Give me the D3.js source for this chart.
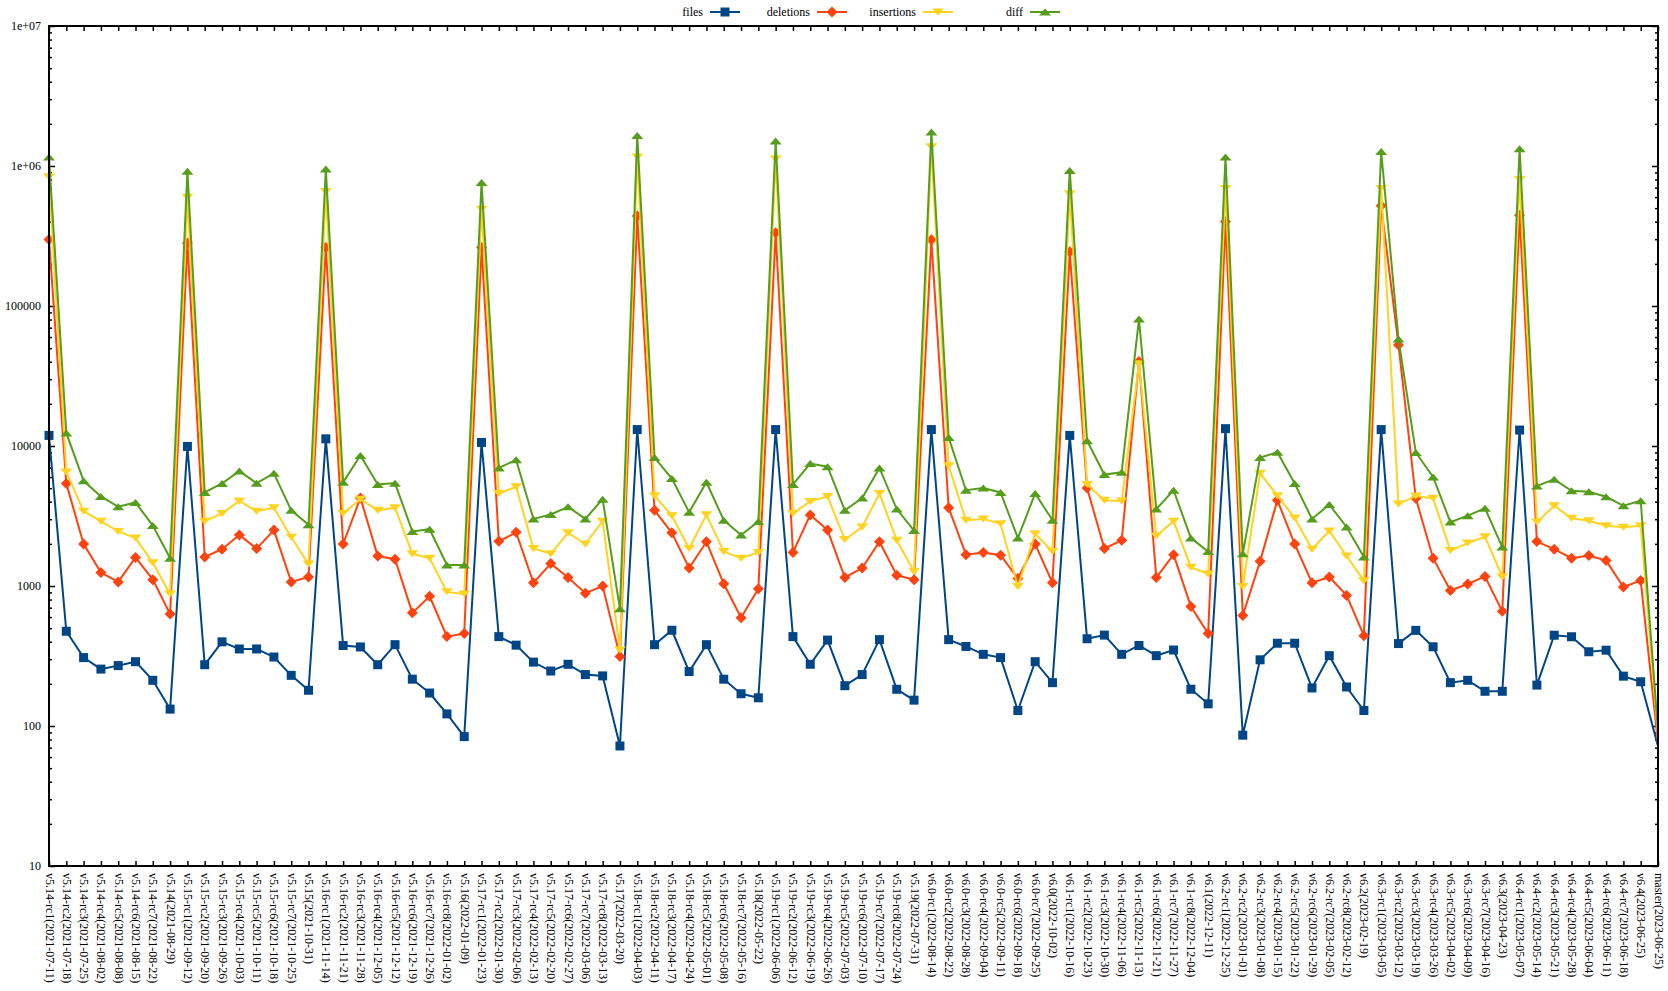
<!DOCTYPE html>
<html><head><meta charset="utf-8">
<script src="https://cdn.jsdelivr.net/npm/d3@7"></script>
<style>
html,body{margin:0;padding:0;background:#fff;}
text{font-family:"Liberation Serif","DejaVu Serif",serif;}
</style></head>
<body>
<svg id="chart" width="1668" height="991"></svg>
<script>
const categories = [
"v5.14-rc1(2021-07-11)","v5.14-rc2(2021-07-18)","v5.14-rc3(2021-07-25)","v5.14-rc4(2021-08-02)","v5.14-rc5(2021-08-08)","v5.14-rc6(2021-08-15)","v5.14-rc7(2021-08-22)","v5.14(2021-08-29)",
"v5.15-rc1(2021-09-12)","v5.15-rc2(2021-09-20)","v5.15-rc3(2021-09-26)","v5.15-rc4(2021-10-03)","v5.15-rc5(2021-10-11)","v5.15-rc6(2021-10-18)","v5.15-rc7(2021-10-25)","v5.15(2021-10-31)",
"v5.16-rc1(2021-11-14)","v5.16-rc2(2021-11-21)","v5.16-rc3(2021-11-28)","v5.16-rc4(2021-12-05)","v5.16-rc5(2021-12-12)","v5.16-rc6(2021-12-19)","v5.16-rc7(2021-12-26)","v5.16-rc8(2022-01-02)","v5.16(2022-01-09)",
"v5.17-rc1(2022-01-23)","v5.17-rc2(2022-01-30)","v5.17-rc3(2022-02-06)","v5.17-rc4(2022-02-13)","v5.17-rc5(2022-02-20)","v5.17-rc6(2022-02-27)","v5.17-rc7(2022-03-06)","v5.17-rc8(2022-03-13)","v5.17(2022-03-20)",
"v5.18-rc1(2022-04-03)","v5.18-rc2(2022-04-11)","v5.18-rc3(2022-04-17)","v5.18-rc4(2022-04-24)","v5.18-rc5(2022-05-01)","v5.18-rc6(2022-05-08)","v5.18-rc7(2022-05-16)","v5.18(2022-05-22)",
"v5.19-rc1(2022-06-06)","v5.19-rc2(2022-06-12)","v5.19-rc3(2022-06-19)","v5.19-rc4(2022-06-26)","v5.19-rc5(2022-07-03)","v5.19-rc6(2022-07-10)","v5.19-rc7(2022-07-17)","v5.19-rc8(2022-07-24)","v5.19(2022-07-31)",
"v6.0-rc1(2022-08-14)","v6.0-rc2(2022-08-22)","v6.0-rc3(2022-08-28)","v6.0-rc4(2022-09-04)","v6.0-rc5(2022-09-11)","v6.0-rc6(2022-09-18)","v6.0-rc7(2022-09-25)","v6.0(2022-10-02)",
"v6.1-rc1(2022-10-16)","v6.1-rc2(2022-10-23)","v6.1-rc3(2022-10-30)","v6.1-rc4(2022-11-06)","v6.1-rc5(2022-11-13)","v6.1-rc6(2022-11-21)","v6.1-rc7(2022-11-27)","v6.1-rc8(2022-12-04)","v6.1(2022-12-11)",
"v6.2-rc1(2022-12-25)","v6.2-rc2(2023-01-01)","v6.2-rc3(2023-01-08)","v6.2-rc4(2023-01-15)","v6.2-rc5(2023-01-22)","v6.2-rc6(2023-01-29)","v6.2-rc7(2023-02-05)","v6.2-rc8(2023-02-12)","v6.2(2023-02-19)",
"v6.3-rc1(2023-03-05)","v6.3-rc2(2023-03-12)","v6.3-rc3(2023-03-19)","v6.3-rc4(2023-03-26)","v6.3-rc5(2023-04-02)","v6.3-rc6(2023-04-09)","v6.3-rc7(2023-04-16)","v6.3(2023-04-23)",
"v6.4-rc1(2023-05-07)","v6.4-rc2(2023-05-14)","v6.4-rc3(2023-05-21)","v6.4-rc4(2023-05-28)","v6.4-rc5(2023-06-04)","v6.4-rc6(2023-06-11)","v6.4-rc7(2023-06-18)","v6.4(2023-06-25)",
"master(2023-06-25)"
];

const files = [
11900,475,308,255,270,288,212,132,
9930,274,399,355,355,311,230,180,
11250,376,367,274,381,216,172,122,84,
10600,435,378,286,247,276,233,228,72,
13100,381,483,245,381,216,170,159,
13100,435,276,411,194,233,414,183,153,
13100,414,370,325,308,129,288,204,
11900,420,446,325,376,318,349,183,144,
13300,86,297,390,390,187,318,190,129,
13100,388,482,368,204,212,177,177,
13000,196,445,434,339,348,227,207,
72
];
const deletions = [
299000,5390,1995,1247,1070,1600,1110,630,
282000,1613,1830,2313,1850,2507,1070,1160,
262000,1995,4260,1637,1555,643,845,435,458,
262000,2085,2417,1053,1445,1150,889,1000,313,
439000,3470,2400,1343,2070,1037,593,957,
334000,1738,3220,2507,1150,1343,2070,1195,1110,
297000,3620,1673,1738,1660,1133,1995,1053,
244000,5010,1853,2120,40200,1150,1673,713,458,
402000,615,1500,4100,1995,1053,1160,857,442,
520000,52700,4230,1580,929,1033,1170,659,
445000,2075,1832,1580,1650,1518,984,1094,
76
];
const insertions = [
838000,6530,3420,2900,2455,2200,1465,875,
597000,2900,3300,4050,3420,3625,2230,1435,
658000,3300,4170,3470,3625,1698,1578,908,875,
490000,4580,5120,1853,1698,2400,1995,2900,349,
1160000,4420,3180,1853,3225,1762,1578,1738,
1120000,3300,4020,4360,2148,2640,4580,2120,1265,
1370000,7230,2950,3015,2780,993,2365,1762,
634000,5310,4100,4050,38700,2280,2900,1362,1218,
692000,993,6380,4420,3060,1830,2474,1637,1092,
692000,3850,4400,4230,1790,2025,2250,1160,
802000,2860,3740,3050,2925,2695,2630,2695,
85
];
const diff = [
1160000,12400,5640,4360,3680,3950,2700,1580,
916000,4660,5400,6620,5430,6380,3470,2740,
950000,5500,8570,5310,5430,2455,2545,1413,1413,
762000,6970,7960,3015,3240,3680,3015,4170,687,
1650000,8260,5850,3365,5510,2950,2313,2885,
1510000,5310,7500,7120,3470,4250,6970,3545,2490,
1750000,11500,4830,5010,4660,2200,4580,2950,
929000,10900,6250,6490,80700,3545,4830,2200,1762,
1160000,1698,8260,9020,5400,3015,3815,2640,1613,
1270000,58100,8990,6010,2860,3180,3590,1897,
1330000,5190,5780,4790,4710,4340,3740,4060,
92
];
const yTicks = [10,100,1000,10000,100000,1000000,10000000];
const yTickLabels = ["10","100","1000","10000","100000","1e+06","1e+07"];
const seriesNames = ["files","deletions","insertions","diff"];
const seriesColors = ["#004586","#ff420e","#ffd320","#579d1c"];
const seriesShapes = ["square","diamond","down","up"];

const L = 49, R = 1658, T = 26, B = 866;
const svg = d3.select("#chart");
const x = d3.scalePoint().domain(categories).range([L, R]).padding(0);
const y = d3.scaleLog().domain([10, 1e7]).range([B, T]);

const minors = [];
for (let i = 0; i < yTicks.length - 1; i++) for (let m = 2; m <= 9; m++) minors.push(yTicks[i] * m);

// axes
const gBottom = svg.append("g").attr("transform", `translate(0,${B})`)
  .call(d3.axisBottom(x).tickSize(-5).tickSizeOuter(0));
gBottom.select(".domain").remove();
gBottom.selectAll("line").attr("stroke","#000").attr("stroke-width",1.5);
gBottom.selectAll("text")
  .attr("y", 0).attr("x", 7).attr("dy", "0.33em")
  .attr("transform", "rotate(90)")
  .style("text-anchor", "start")
  .style("font-size", "12px")
  .style("font-family", '"Liberation Serif",serif')
  .attr("fill", "#000");

const gTop = svg.append("g").attr("transform", `translate(0,${T})`)
  .call(d3.axisTop(x).tickSize(-5).tickSizeOuter(0).tickFormat(""));
gTop.select(".domain").remove();
gTop.selectAll("line").attr("stroke","#000").attr("stroke-width",1.5);

const yFmt = d => yTickLabels[yTicks.indexOf(d)];
const gLeft = svg.append("g").attr("transform", `translate(${L},0)`)
  .call(d3.axisLeft(y).tickValues(yTicks).tickFormat(yFmt).tickSize(-6).tickPadding(8).tickSizeOuter(0));
gLeft.select(".domain").remove();
gLeft.selectAll("line").attr("stroke","#000").attr("stroke-width",1.5);
gLeft.selectAll("text").style("font-size","12px").style("font-family",'"Liberation Serif",serif').attr("fill","#000");
const gLeftMin = svg.append("g").attr("transform", `translate(${L},0)`)
  .call(d3.axisLeft(y).tickValues(minors).tickFormat("").tickSize(-3).tickSizeOuter(0));
gLeftMin.select(".domain").remove();
gLeftMin.selectAll("line").attr("stroke","#000").attr("stroke-width",1.5);

const gRight = svg.append("g").attr("transform", `translate(${R},0)`)
  .call(d3.axisRight(y).tickValues(yTicks).tickFormat("").tickSize(-6).tickSizeOuter(0));
gRight.select(".domain").remove();
gRight.selectAll("line").attr("stroke","#000").attr("stroke-width",1.5);
const gRightMin = svg.append("g").attr("transform", `translate(${R},0)`)
  .call(d3.axisRight(y).tickValues(minors).tickFormat("").tickSize(-3).tickSizeOuter(0));
gRightMin.select(".domain").remove();
gRightMin.selectAll("line").attr("stroke","#000").attr("stroke-width",1.5);

// markers
function shapePath(shape) {
  if (shape === "square") return "M-4.5,-4.5H4.5V4.5H-4.5Z";
  if (shape === "diamond") return "M0,-5.5L5.5,0L0,5.5L-5.5,0Z";
  if (shape === "down") return "M-6,-3.5H6L0,3.5Z";
  return "M-6,3.5H6L0,-3.5Z";
}

const data = [files, deletions, insertions, diff];
const line = d3.line().x((d, i) => x(categories[i])).y(d => y(d));
const lastIdx = categories.length - 1;
data.forEach((vals, s) => {
  const g = svg.append("g");
  g.append("path").datum(vals).attr("d", line)
    .attr("fill", "none").attr("stroke", seriesColors[s]).attr("stroke-width", 2)
    .attr("stroke-linejoin", "miter");
  // the last point sits on the right border and is clipped in the original
  g.selectAll("path.pt").data(vals.slice(0, lastIdx)).enter().append("path").attr("class","pt")
    .attr("transform", (d, i) => `translate(${x(categories[i])},${y(d)})`)
    .attr("d", shapePath(seriesShapes[s]))
    .attr("fill", seriesColors[s]);
});

// frame
svg.append("rect").attr("x", L).attr("y", T).attr("width", R - L).attr("height", B - T)
  .attr("fill", "none").attr("stroke", "#000").attr("stroke-width", 2);

// legend
const legendEnds = [740, 847, 953, 1060];
const lg = svg.append("g");
seriesNames.forEach((n, s) => {
  const xe = legendEnds[s];
  lg.append("text").attr("x", xe - 37).attr("y", 12).attr("dy","0.35em")
    .attr("text-anchor","end").style("font-size","12px").attr("fill","#000").text(n);
  lg.append("line").attr("x1", xe - 30).attr("x2", xe).attr("y1", 12).attr("y2", 12)
    .attr("stroke", seriesColors[s]).attr("stroke-width", 2);
  lg.append("path").attr("transform", `translate(${xe - 15},12)`)
    .attr("d", shapePath(seriesShapes[s])).attr("fill", seriesColors[s]);
});
</script>
</body></html>
